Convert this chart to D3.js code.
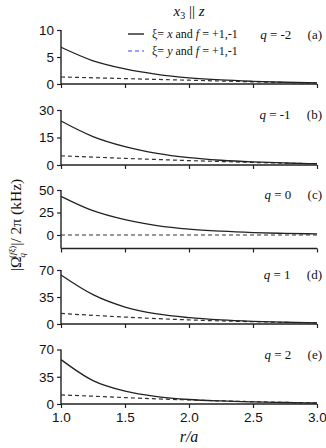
<!DOCTYPE html>
<html><head><meta charset="utf-8">
<script src="https://cdn.jsdelivr.net/npm/d3@7"></script>
<style>body{margin:0;background:#fff}svg{display:block}</style>
</head><body>
<script>
const rValues = [1.0, 1.25, 1.5, 1.75, 2.0, 2.25, 2.5, 2.75, 3.0];
const xTicks = [1.0, 1.5, 2.0, 2.5, 3.0];
const panelQ = ["-2", "-1", "0", "1", "2"];
const panelTag = ["(a)", "(b)", "(c)", "(d)", "(e)"];
const solidA = [6.8, 4.3, 2.8, 1.8, 1.15, 0.75, 0.5, 0.32, 0.2];
const dashA  = [1.3, 1.15, 1.0, 0.85, 0.7, 0.55, 0.4, 0.28, 0.18];
const solidB = [24, 15.5, 10, 6.3, 4.0, 2.6, 1.7, 1.1, 0.7];
const dashB  = [5.0, 4.3, 3.6, 3.0, 2.4, 1.9, 1.4, 1.0, 0.7];
const solidC = [43, 27, 17, 10.5, 6.5, 4.2, 2.7, 1.8, 1.2];
const dashC  = [0, 0, 0, 0, 0, 0, 0, 0, 0];
const solidD = [63.5, 38, 22, 13, 8.2, 5.3, 3.5, 2.3, 1.5];
const dashD  = [13.7, 11.2, 9.0, 7.0, 5.3, 4.0, 3.0, 2.1, 1.4];
const solidE = [57, 30, 16.5, 9.5, 5.8, 3.9, 2.7, 1.9, 1.3];
const dashE  = [11.7, 10, 8.2, 6.6, 5.2, 4.0, 3.0, 2.1, 1.3];
const yDomains = [[0, 10], [0, 30], [-15, 50], [0, 70], [0, 70]];
const yTickVals = [[0, 5, 10], [0, 15, 30], [0, 25, 50], [0, 35, 70], [0, 35, 70]];
const solids = [solidA, solidB, solidC, solidD, solidE];
const dashes = [dashA, dashB, dashC, dashD, dashE];

const W = 326, H = 448;
const svg = d3.select("body").append("svg").attr("width", W).attr("height", H);
const x = d3.scaleLinear().domain([1, 3]).range([61, 317]);
const panelRanges = [[30, 84], [110, 165], [190, 248.5], [270, 324], [349.5, 404]];
const serif = "'Liberation Serif','Times New Roman',serif";
const sans = "'Liberation Sans',Arial,sans-serif";

panelRanges.forEach((pr, i) => {
  const y = d3.scaleLinear().domain(yDomains[i]).range([pr[1], pr[0]]);
  const g = svg.append("g");
  const yAx = g.append("g").attr("transform", `translate(${x(1)},0)`)
    .call(d3.axisLeft(y).tickValues(yTickVals[i]).tickSize(4).tickPadding(3).tickFormat(d3.format("d")));
  const xAx = g.append("g").attr("transform", `translate(0,${pr[1]})`)
    .call(d3.axisBottom(x).tickValues(xTicks).tickSize(4).tickPadding(4)
      .tickFormat(i === 4 ? d3.format(".1f") : ""));
  [yAx, xAx].forEach(a => {
    a.select(".domain").attr("stroke", "#222").attr("stroke-width", 1.4);
    a.selectAll(".tick line").attr("stroke", "#222").attr("stroke-width", 1.2);
    a.selectAll("text").attr("font-family", sans).attr("font-size", 13.5).attr("fill", "#111");
  });
  xAx.select(".domain").attr("d", `M${x(1)},0H${x(3)}`);
  yAx.select(".domain").attr("d", `M0,${pr[1]}V${pr[0]}`);
  const line = d3.line().x((d, j) => x(rValues[j])).y(d => y(d)).curve(d3.curveMonotoneX);
  g.append("path").attr("d", line(dashes[i])).attr("fill", "none")
    .attr("stroke", "#333").attr("stroke-width", 1.2).attr("stroke-dasharray", "4,3");
  g.append("path").attr("d", line(solids[i])).attr("fill", "none")
    .attr("stroke", "#222").attr("stroke-width", 1.3);
  const t = g.append("text").attr("x", 322).attr("y", pr[0] + 9).attr("text-anchor", "end")
    .attr("font-family", serif).attr("font-size", 13).attr("fill", "#111");
  t.append("tspan").attr("font-style", "italic").text("q");
  t.append("tspan").text(" = " + panelQ[i] + "\u2003 " + panelTag[i]);
});

// title
const title = svg.append("text").attr("x", 189).attr("y", 16).attr("text-anchor", "middle")
  .attr("font-family", serif).attr("font-size", 15).attr("fill", "#111");
title.append("tspan").attr("font-style", "italic").text("x");
title.append("tspan").attr("font-size", 10).attr("dy", 3).text("3");
title.append("tspan").attr("dy", -3).text(" || ");
title.append("tspan").attr("font-style", "italic").text("z");

// legend
const legendItems = [
  {v: "x", dash: null, color: "#111", y: 34},
  {v: "y", dash: "4,3", color: "#6f86ff", y: 51}
];
legendItems.forEach(it => {
  svg.append("line").attr("x1", 128).attr("x2", 144).attr("y1", it.y).attr("y2", it.y)
    .attr("stroke", it.color).attr("stroke-width", 1.3).attr("stroke-dasharray", it.dash);
  const t = svg.append("text").attr("x", 152).attr("y", it.y + 4)
    .attr("font-family", serif).attr("font-size", 12).attr("fill", "#111");
  t.append("tspan").text("\u03BE= ");
  t.append("tspan").attr("font-style", "italic").text(it.v);
  t.append("tspan").text(" and ");
  t.append("tspan").attr("font-style", "italic").text("f");
  t.append("tspan").text(" = +1,-1");
});

// y label
const yl = svg.append("text").attr("transform", "translate(21,225) rotate(-90)")
  .attr("text-anchor", "middle").attr("font-family", serif).attr("font-size", 15.5).attr("fill", "#111");
yl.append("tspan").text("|\u03A9");
yl.append("tspan").attr("font-size", 9).attr("dy", 4).attr("dx", -1).attr("font-style", "italic").text("q");
yl.append("tspan").attr("font-size", 9).attr("dy", -10).attr("dx", -5).text("(");
yl.append("tspan").attr("font-size", 9).attr("font-style", "italic").text("f\u03BE");
yl.append("tspan").attr("font-size", 9).text(")");
yl.append("tspan").attr("dy", 6).text("|/ 2\u03C0  (kHz)");

// x label
svg.append("text").attr("x", 189).attr("y", 442).attr("text-anchor", "middle")
  .attr("font-family", serif).attr("font-size", 16).attr("font-style", "italic").attr("fill", "#111")
  .text("r/a");
</script>
</body></html>
